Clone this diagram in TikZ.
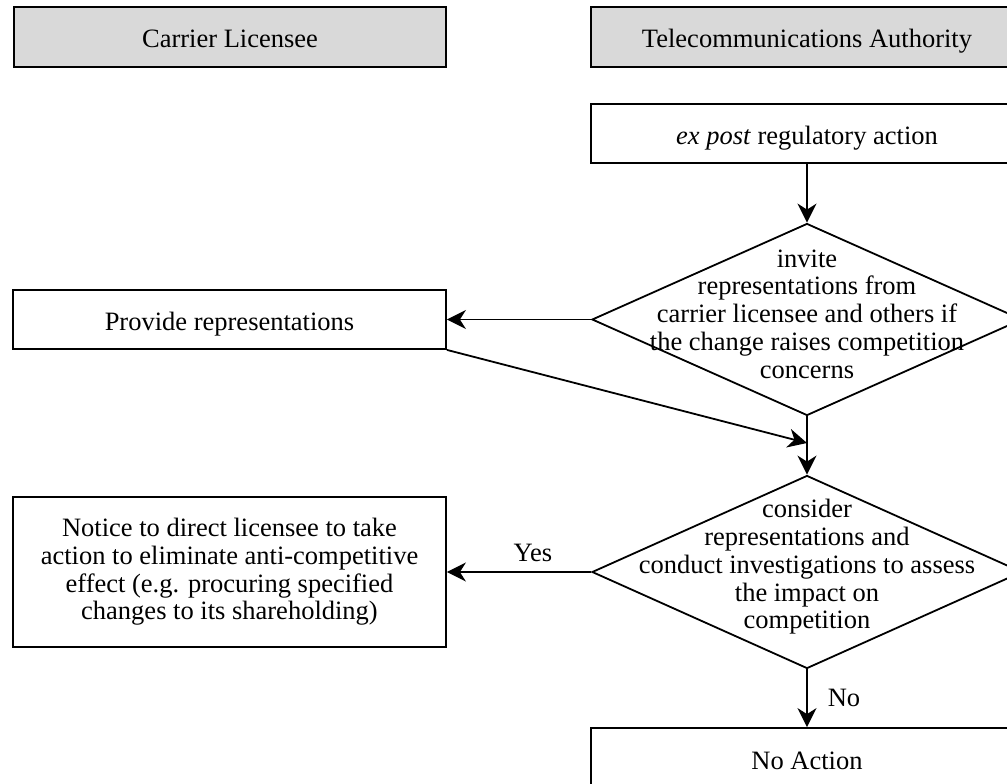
\documentclass[tikz,border=0pt]{standalone}
\usepackage{fontspec}
\setmainfont{Liberation Serif}
\usetikzlibrary{shapes.geometric,arrows.meta}
\definecolor{hdrgray}{RGB}{217,217,217}
\tikzset{
  txt/.style={font=\fontsize{26.5}{27.7}\selectfont, align=center, inner sep=0pt},
  box/.style={draw, line width=1.8pt, inner sep=0pt, font=\fontsize{26.5}{27.7}\selectfont, align=center},
  onel/.style={text height=24pt, text depth=2pt},
  hdr/.style={box, onel, fill=hdrgray},
  dia/.style={draw, line width=1.8pt, shape=diamond, inner sep=0pt},
  conn/.style={line width=1.8pt, -{Stealth[length=19pt, width=19pt, inset=6pt]}}
}
\begin{document}
\begin{tikzpicture}[x=1pt, y=-1pt]
\clip (0,0) rectangle (1007,784);
\fill[white] (0,0) rectangle (1007,784);
% headers
\node[hdr, minimum width=432pt, minimum height=60pt] (hl) at (230,37) {Carrier Licensee};
\node[hdr, minimum width=432pt, minimum height=60pt] (hr) at (807,37) {Telecommunications Authority};
% boxes
\node[box, onel, minimum width=432pt, minimum height=59pt] (ep) at (807,133.5) {\textit{ex post} regulatory action};
\node[box, onel, minimum width=433pt, minimum height=59pt] (pr) at (229.5,319.5) {Provide representations};
\node[box, minimum width=433pt, minimum height=150pt] (nt) at (229.5,572) {Notice to direct licensee to take\\action to eliminate anti-competitive\\effect (e.g. procuring specified\\changes to its shareholding)};
\node[box, onel, minimum width=432pt, minimum height=60pt] (na) at (807,758) {No Action};
% diamonds
\node[dia, minimum width=430pt, minimum height=192pt] (d1) at (807,319.5) {};
\node[txt] (d1t) at (807,314) {invite\\representations from\\carrier licensee and others if\\the change raises competition\\concerns};
\node[dia, minimum width=430pt, minimum height=193pt] (d2) at (807,572) {};
\node[txt] (d2t) at (807,567) {consider\\representations and\\conduct investigations to assess\\the impact on\\competition};
% connectors
\coordinate (m) at (807,443);
\draw[conn] (ep.south) -- (d1.north);
\draw[conn] (d1.west) -- (pr.east);
\draw[conn] (pr.south east) -- (m);
\draw[conn] (d1.south) -- (d2.north);
\draw[conn] (d2.west) -- (nt.east);
\node[txt] (yes) at (533,553) {Yes};
\draw[conn] (d2.south) -- (na.north);
\node[txt] (no) at (844,698) {No};
\end{tikzpicture}
\end{document}
